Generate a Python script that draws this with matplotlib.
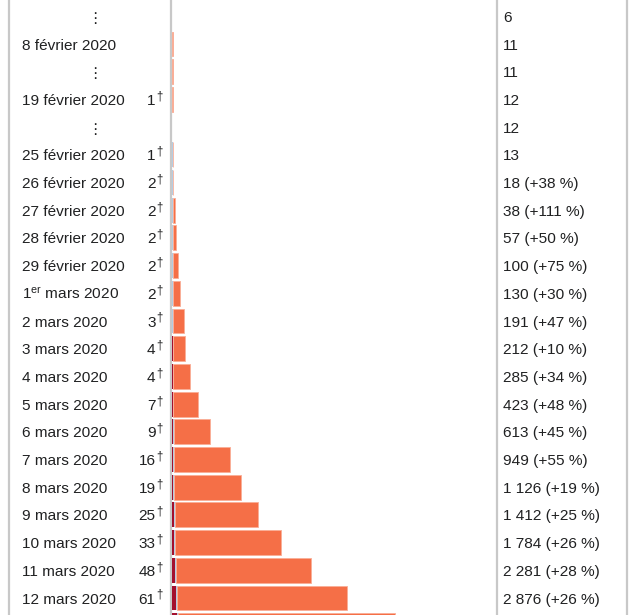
import matplotlib
matplotlib.use("Agg")
import matplotlib.pyplot as plt

plt.rcParams['font.family'] = ['Liberation Sans', 'DejaVu Sans']
plt.rcParams['mathtext.fontset'] = 'custom'
plt.rcParams['mathtext.rm'] = 'Liberation Sans'
plt.rcParams['mathtext.it'] = 'Liberation Sans:italic'
plt.rcParams['mathtext.bf'] = 'Liberation Sans:bold'

# ---------------- data ----------------
dates = ["⋮", "8 février 2020", "⋮", "19 février 2020", "⋮",
         "25 février 2020", "26 février 2020", "27 février 2020",
         "28 février 2020", "29 février 2020", "1er mars 2020",
         "2 mars 2020", "3 mars 2020", "4 mars 2020", "5 mars 2020",
         "6 mars 2020", "7 mars 2020", "8 mars 2020", "9 mars 2020",
         "10 mars 2020", "11 mars 2020", "12 mars 2020", "13 mars 2020"]
deaths_label = [None, None, None, 1, None, 1, 2, 2, 2, 2, 2, 3, 4, 4, 7,
                9, 16, 19, 25, 33, 48, 61, 79]
cases = [6, 11, 11, 12, 12, 13, 18, 38, 57, 100, 130, 191, 212, 285, 423,
         613, 949, 1126, 1412, 1784, 2281, 2876, 3661]
change_pct = [None, None, None, None, None, None, 38, 111, 50, 75, 30, 47,
              10, 34, 48, 45, 55, 19, 25, 26, 28, 26, 27]

bar_deaths = [0, 0, 0, 1, 0, 1, 2, 2, 2, 2, 2, 3, 4, 4, 7, 9, 16, 19, 25,
              33, 48, 61, 79]
bar_recovered = [0, 0, 0, 0, 0, 11, 12, 12, 12, 12, 12, 12, 12, 12, 12, 12,
                 12, 12, 12, 12, 12, 12, 12]
bar_active = [0, 11, 11, 11, 0, 1, 4, 24, 43, 86, 116, 176, 196, 269, 404,
              592, 921, 1095, 1375, 1739, 2221, 2803, 3570]

# ---------------- layout ----------------
W, H = 640, 615
y0, dy = 16.3, 27.7
ytop = -y0 / dy
ybot = (H - y0) / dy
px_per_case = 0.0608
bar_left_px = 172.3
bar_width_px = 330

fig = plt.figure(figsize=(W / 100, H / 100), dpi=100)
ax = fig.add_axes([0, 0, 1, 1])
ax.set_xlim(0, W)
ax.set_ylim(ybot, ytop)
ax.axis('off')

bx = fig.add_axes([bar_left_px / W, 0, bar_width_px / W, 1])
bx.set_xlim(0, bar_width_px / px_per_case)
bx.set_ylim(ybot, ytop)
bx.axis('off')
bx.patch.set_alpha(0)

c_death = '#A3102E'
c_recov = '#B3CCE2'
c_active = '#F56F47'
c_edge = '#F9AE97'


def draw_segment(vals, lefts, color, edge=None, lw=0):
    rr = [i for i, v in enumerate(vals) if v > 0]
    bx.barh(rr, [vals[i] for i in rr], left=[lefts[i] for i in rr],
            height=0.9, color=color,
            edgecolor=edge if edge else color, linewidth=lw)


rows = list(range(len(dates)))
left1 = [0] * len(rows)
left2 = [a + b for a, b in zip(left1, bar_deaths)]
left3 = [a + b for a, b in zip(left2, bar_recovered)]
draw_segment(bar_deaths, left1, c_death)
draw_segment(bar_recovered, left2, c_recov)
draw_segment(bar_active, left3, c_active, c_edge, 0.6)

# grid lines
for xv in (8.5, 170.7, 497, 627):
    ax.axvline(xv, color='#c8c8c8', lw=1.6, zorder=0)

fs = 11.1
tcol = '#202122'
base_off = 0.2


def fmt(n):
    return f"{n:,}".replace(",", " ")


for i in rows:
    # only rows whose text lies inside the picture
    if (y0 + dy * i + 6) > H:
        continue
    d = dates[i]
    if d == "⋮":
        ax.text(95, i + 0.07, d, ha='center', va='center', fontsize=fs,
                family=['DejaVu Sans'], color=tcol)
    else:
        txt = d
        if d.startswith("1er"):
            txt = r"1$^{\mathrm{er}}$" + d[3:]
        ax.text(22, i + base_off, txt, ha='left', va='baseline',
                fontsize=fs, color=tcol)
    if deaths_label[i] is not None:
        ax.text(155.5, i + base_off, str(deaths_label[i]), ha='right',
                va='baseline', fontsize=fs, color=tcol)
        ax.text(156.5, i + base_off - 0.2, "†", ha='left', va='baseline',
                fontsize=fs * 0.75, color=tcol)
    lab = fmt(cases[i])
    if change_pct[i] is not None:
        lab += f" (+{change_pct[i]} %)"
    ax.text(503, i + base_off, lab, ha='left', va='baseline', fontsize=fs,
            color=tcol)

fig.savefig("out.png", dpi=100)
